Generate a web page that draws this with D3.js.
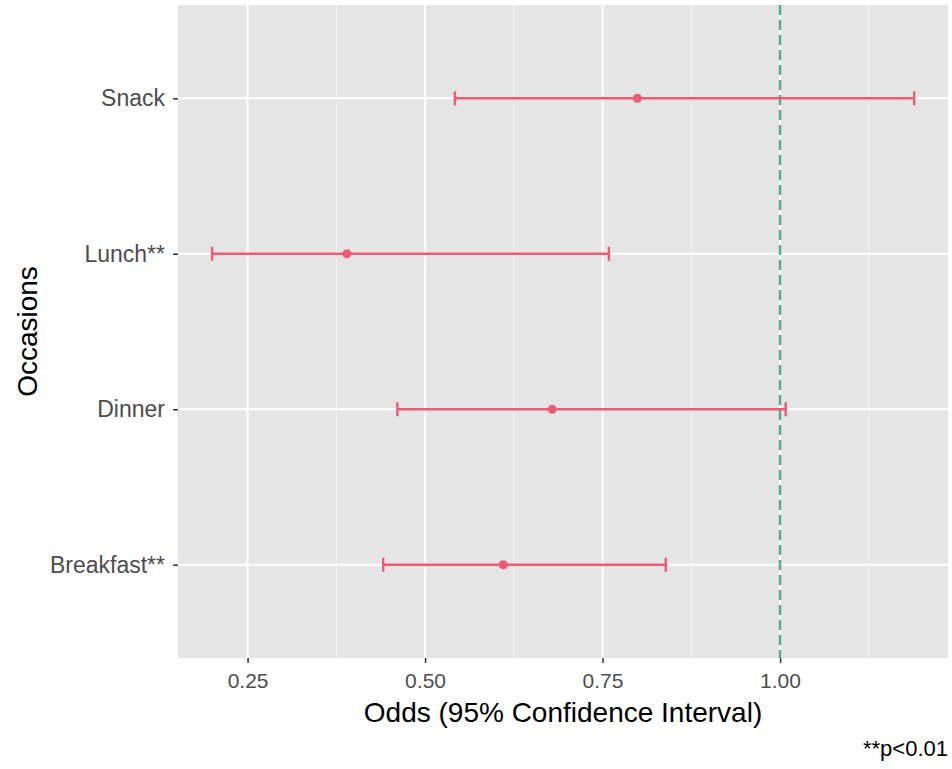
<!DOCTYPE html>
<html>
<head>
<meta charset="utf-8">
<script src="https://cdn.jsdelivr.net/npm/d3@7"></script>
<style>
  body { margin: 0; background: #fff; }
  svg { display: block; font-family: "Liberation Sans", Arial, sans-serif; }
</style>
</head>
<body>
<svg id="chart" width="952" height="769"></svg>
<script>
// Data
const occasions = ['Breakfast**', 'Dinner', 'Lunch**', 'Snack'];
const odds      = [0.610, 0.679, 0.390, 0.799];
const lower     = [0.441, 0.461, 0.200, 0.542];
const upper     = [0.839, 1.008, 0.759, 1.189];
const xTicks    = [0.25, 0.50, 0.75, 1.00];
const xMinor    = [0.375, 0.625, 0.875, 1.125];
const refLine   = 1.0;

const rows = occasions.map((name, i) => ({ name, odds: odds[i], lo: lower[i], hi: upper[i] }));

const panel = { left: 178, top: 5, right: 948, bottom: 658 };
const svg = d3.select('#chart');

const x = d3.scaleLinear()
  .domain([0.152, 1.2366])
  .range([panel.left, panel.right]);

// discrete axis with ggplot style 0.6 expansion
const y = d3.scalePoint()
  .domain(occasions.slice().reverse())
  .range([panel.top, panel.bottom])
  .padding(0.6);

const red = '#EE5A74';
const teal = '#5AAE8E';

// panel background
svg.append('rect')
  .attr('x', panel.left).attr('y', panel.top)
  .attr('width', panel.right - panel.left)
  .attr('height', panel.bottom - panel.top)
  .attr('fill', '#E5E5E5');

// grid lines
const grid = svg.append('g');
grid.selectAll('line.minor')
  .data(xMinor).enter().append('line')
    .attr('class', 'minor')
    .attr('x1', d => x(d)).attr('x2', d => x(d))
    .attr('y1', panel.top).attr('y2', panel.bottom)
    .attr('stroke', '#F4F4F4').attr('stroke-width', 1);

grid.selectAll('line.vmajor')
  .data(xTicks).enter().append('line')
    .attr('class', 'vmajor')
    .attr('x1', d => x(d)).attr('x2', d => x(d))
    .attr('y1', panel.top).attr('y2', panel.bottom)
    .attr('stroke', '#fff').attr('stroke-width', 2);

grid.selectAll('line.hmajor')
  .data(occasions).enter().append('line')
    .attr('class', 'hmajor')
    .attr('x1', panel.left).attr('x2', panel.right)
    .attr('y1', d => y(d)).attr('y2', d => y(d))
    .attr('stroke', '#fff').attr('stroke-width', 2);

// reference line at odds = 1
svg.append('line')
  .attr('x1', x(refLine)).attr('x2', x(refLine))
  .attr('y1', panel.top).attr('y2', panel.bottom)
  .attr('stroke', teal)
  .attr('stroke-width', 2.5)
  .attr('stroke-dasharray', '10,5');

// error bars
const bars = svg.append('g')
  .selectAll('g')
  .data(rows).enter().append('g')
    .attr('transform', d => `translate(0,${y(d.name)})`);

bars.append('line')
  .attr('x1', d => x(d.lo)).attr('x2', d => x(d.hi))
  .attr('stroke', red).attr('stroke-width', 2.4);

bars.append('line')
  .attr('x1', d => x(d.lo)).attr('x2', d => x(d.lo))
  .attr('y1', -7).attr('y2', 7)
  .attr('stroke', red).attr('stroke-width', 2.4);

bars.append('line')
  .attr('x1', d => x(d.hi)).attr('x2', d => x(d.hi))
  .attr('y1', -7).attr('y2', 7)
  .attr('stroke', red).attr('stroke-width', 2.4);

bars.append('circle')
  .attr('cx', d => x(d.odds))
  .attr('r', 4.5)
  .attr('fill', red);

// x axis
const xAxis = svg.append('g')
  .attr('transform', `translate(0,${panel.bottom})`)
  .call(d3.axisBottom(x)
    .tickValues(xTicks)
    .tickFormat(d3.format('.2f'))
    .tickSize(5)
    .tickPadding(10));
xAxis.select('.domain').remove();
xAxis.selectAll('line').attr('stroke', '#333').attr('stroke-width', 1.5);
xAxis.selectAll('text').attr('fill', '#4D4D4D').attr('font-size', 21);

// y axis
const yAxis = svg.append('g')
  .attr('transform', `translate(${panel.left},0)`)
  .call(d3.axisLeft(y).tickSize(5).tickPadding(8));
yAxis.select('.domain').remove();
yAxis.selectAll('line').attr('stroke', '#333').attr('stroke-width', 1.5);
yAxis.selectAll('text').attr('fill', '#4D4D4D').attr('font-size', 23);

// titles
svg.append('text')
  .attr('x', (panel.left + panel.right) / 2)
  .attr('y', 722)
  .attr('text-anchor', 'middle')
  .attr('font-size', 28)
  .attr('fill', '#000')
  .text('Odds (95% Confidence Interval)');

svg.append('text')
  .attr('transform', `translate(37,${(panel.top + panel.bottom) / 2}) rotate(-90)`)
  .attr('text-anchor', 'middle')
  .attr('font-size', 28)
  .attr('fill', '#000')
  .text('Occasions');

svg.append('text')
  .attr('x', 948)
  .attr('y', 756)
  .attr('text-anchor', 'end')
  .attr('font-size', 22)
  .attr('fill', '#000')
  .text('**p<0.01');
</script>
</body>
</html>
